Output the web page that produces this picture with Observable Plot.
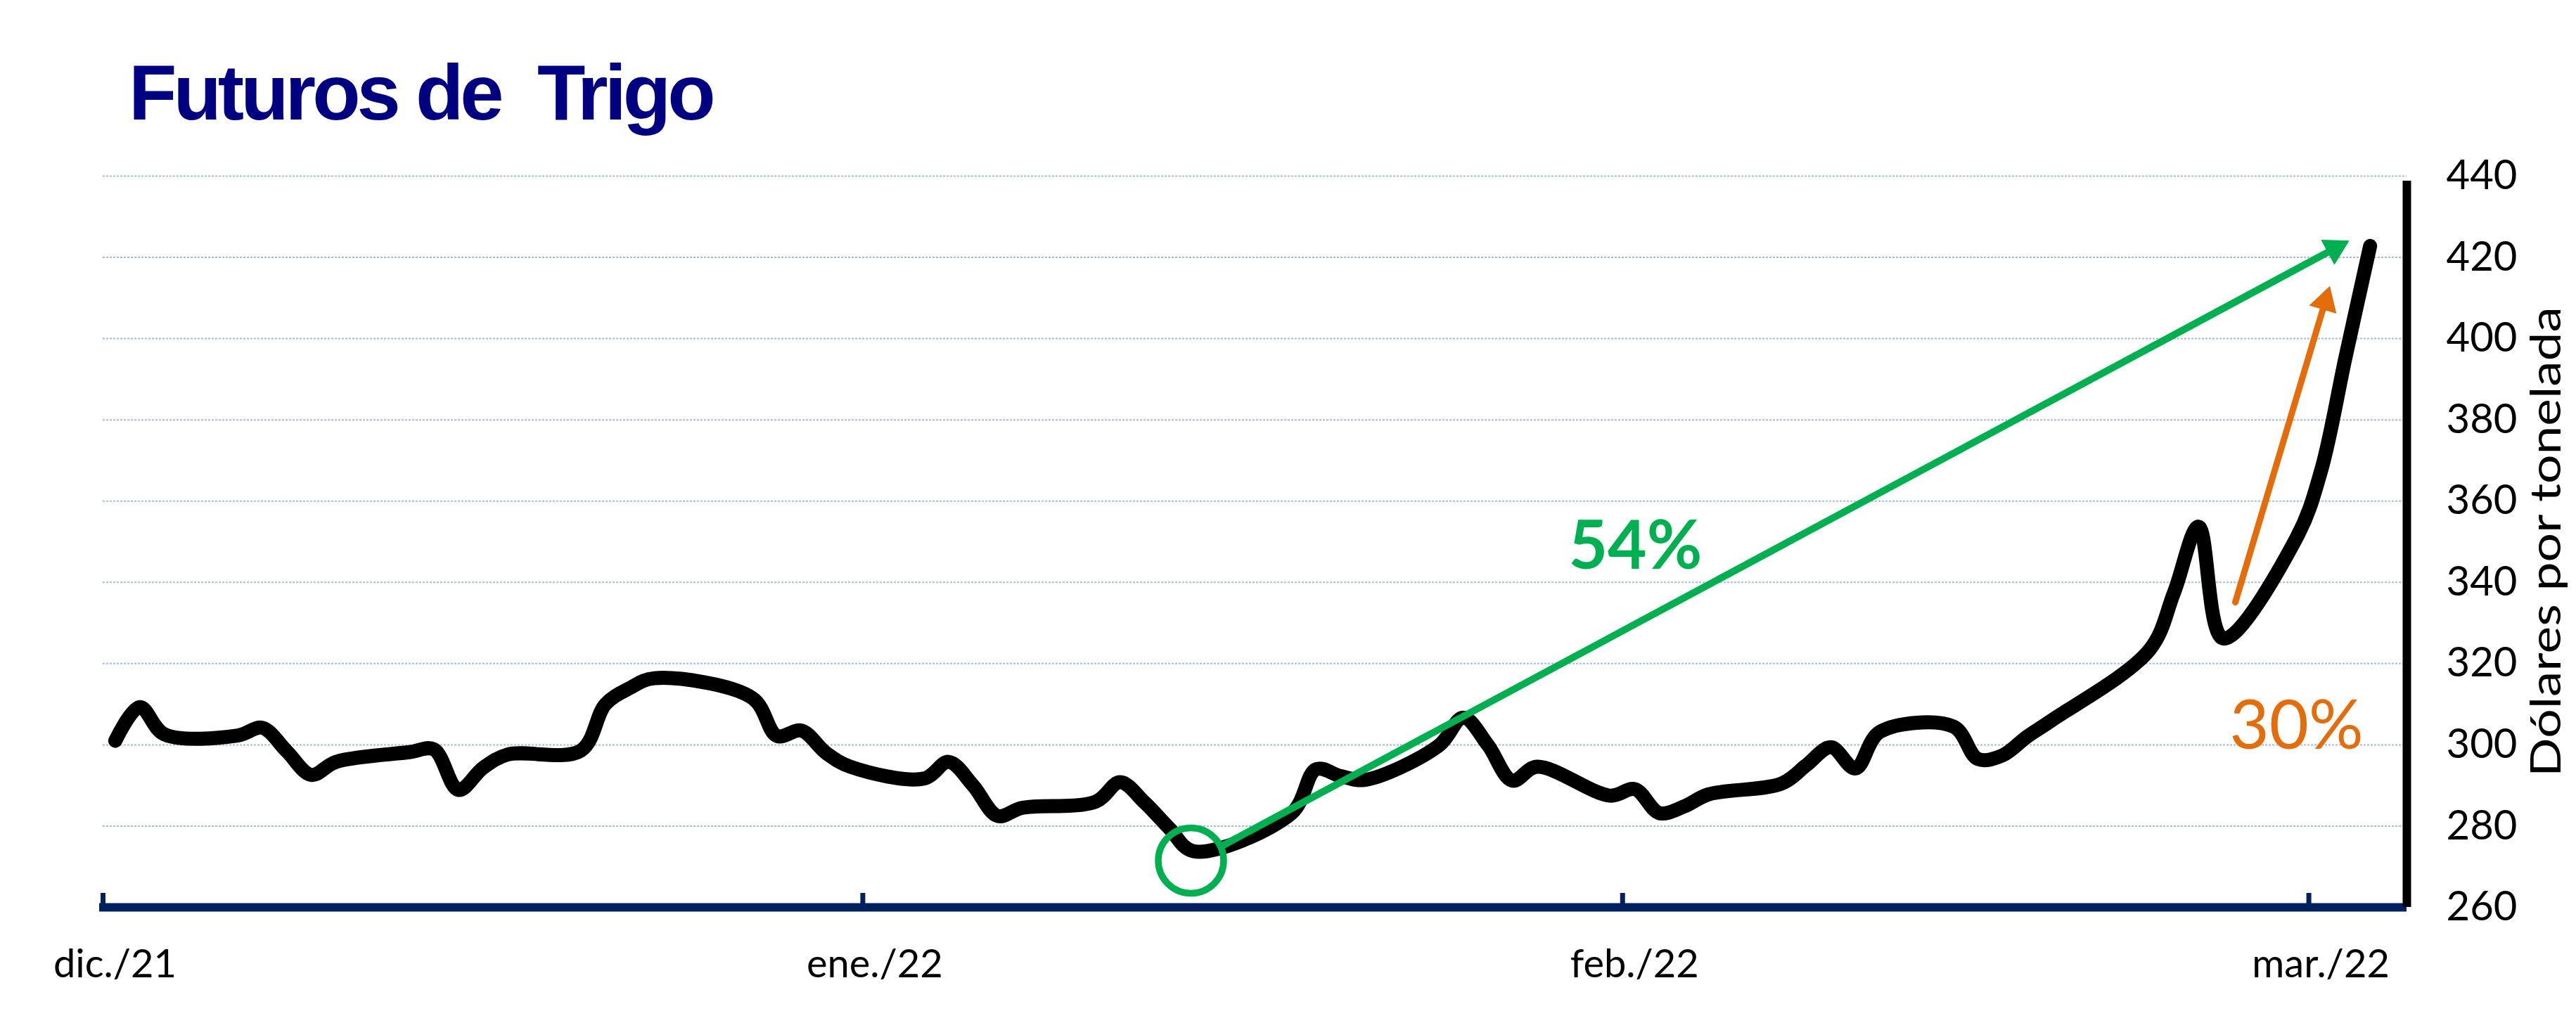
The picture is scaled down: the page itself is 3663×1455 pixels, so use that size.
<!DOCTYPE html>
<html>
<head>
<meta charset="utf-8">
<script src="https://cdn.jsdelivr.net/npm/d3@7"></script>
<script src="https://cdn.jsdelivr.net/npm/@observablehq/plot@0.6"></script>
<style>
  html, body { margin: 0; padding: 0; background: #ffffff; }
  #head { position: relative; width: 3663px; height: 200px; }
  #title { position: absolute; left: 183px; top: 76px; font-family: "Liberation Sans", Arial, sans-serif; font-weight: bold; font-size: 112px; line-height: 112px; letter-spacing: -5px; color: #000080; white-space: pre; }
</style>
</head>
<body>
<div id="head"><div id="title">Futuros de  Trigo</div></div>
<div id="chart"></div>
<script>
// ---- data ----
const tradeDates = [
  "2021-12-01","2021-12-02","2021-12-03","2021-12-06","2021-12-07","2021-12-08","2021-12-09","2021-12-10",
  "2021-12-13","2021-12-14","2021-12-15","2021-12-16","2021-12-17","2021-12-20","2021-12-21","2021-12-22",
  "2021-12-23","2021-12-27","2021-12-28","2021-12-29","2021-12-30","2021-12-31",
  "2022-01-03","2022-01-04","2022-01-05","2022-01-06","2022-01-07","2022-01-10","2022-01-11","2022-01-12",
  "2022-01-13","2022-01-14","2022-01-18","2022-01-19","2022-01-20","2022-01-21","2022-01-24","2022-01-25",
  "2022-01-26","2022-01-27","2022-01-28","2022-01-31",
  "2022-02-01","2022-02-02","2022-02-03","2022-02-04","2022-02-07","2022-02-08","2022-02-09","2022-02-10",
  "2022-02-11","2022-02-14","2022-02-15","2022-02-16","2022-02-17","2022-02-18","2022-02-22","2022-02-23",
  "2022-02-24","2022-02-25","2022-02-28",
  "2022-03-01","2022-03-02","2022-03-03"
];
const prices = [
  301.0, 309.3, 302.6, 302.3, 304.2, 298.4, 292.6, 295.8,
  298.2, 298.9, 288.9, 294.3, 297.6, 298.6, 310.0, 314.0,
  316.4, 311.5, 302.2, 303.5, 298.0, 294.6,
  291.7, 295.8, 290.0, 282.5, 284.5, 286.0, 290.8, 285.8,
  279.5, 273.8, 283.2, 294.0, 292.3, 291.4, 299.8, 306.7,
  300.0, 291.2, 294.6, 287.5,
  289.1, 283.2, 284.8, 287.8, 290.5, 295.0, 299.4, 294.2,
  303.2, 304.5, 296.5, 297.4, 302.0, 306.0, 323.4, 337.5,
  353.7, 326.2, 351.0,
  367.5, 395.5, 422.8
];
const monthTicks = ["2021-12-01", "2022-01-01", "2022-02-01", "2022-03-01"];
const monthLabels = ["dic./21", "ene./22", "feb./22", "mar./22"];
const yTicks = [260, 280, 300, 320, 340, 360, 380, 400, 420, 440];
const gridValues = [280, 300, 320, 340, 360, 380, 400, 420, 440];
const xDomain = ["2021-12-01", "2022-03-05"];
const yDomain = [260, 440];
const yTitle = "Dólares por tonelada";

// annotations (data coordinates)
const lowCircle = {date: "2022-01-14T09:20:00Z", value: 271.5};
const greenArrow = [{date: "2022-01-15T15:36:00Z", value: 275.1}, {date: "2022-03-02T01:30:00Z", value: 422.2}];
const orangeArrow = [{date: "2022-02-26T00:00:00Z", value: 335.1}, {date: "2022-03-01T16:00:00Z", value: 409.1}];
const labelGreen = {date: "2022-02-01T12:30:00Z", value: 343.3, text: "54%"};
const labelOrange = {date: "2022-02-28T12:00:00Z", value: 299.0, text: "30%"};

// ---- build ----
const GREEN = "#00B050", ORANGE = "#E46C0A", NAVY = "#002060";
const series = tradeDates.map((d, i) => ({date: new Date(d + "T12:00:00Z"), value: prices[i]}));
const ticks = monthTicks.map(d => new Date(d + "T00:00:00Z"));
const labelOf = new Map(ticks.map((t, i) => [t.getTime(), monthLabels[i]]));
const xStart = new Date(xDomain[0] + "T00:00:00Z");
const xEnd = new Date(xDomain[1] + "T00:00:00Z");
const asPt = p => ({...p, date: new Date(p.date)});
const gArrow = greenArrow.map(asPt);
const oArrow = orangeArrow.map(asPt);

const chart = Plot.plot({
  width: 3663,
  height: 1255,
  marginLeft: 146,
  marginRight: 241,
  marginTop: 50,
  marginBottom: 165,
  style: {fontFamily: "Lato, 'Open Sans', sans-serif", background: "#ffffff", color: "#000000", overflow: "visible"},
  x: {type: "utc", domain: [xStart, xEnd]},
  y: {domain: yDomain},
  marks: [
    Plot.ruleY(gridValues, {stroke: "#a6bde0", strokeWidth: 2, strokeDasharray: "3,2"}),
    Plot.ruleY([yDomain[0]], {stroke: NAVY, strokeWidth: 12, insetLeft: -5}),
    Plot.ruleX(ticks, {y1: yDomain[0], y2: yDomain[0], insetTop: -20, stroke: NAVY, strokeWidth: 7}),
    Plot.ruleX([xEnd], {y1: yDomain[0], y2: yDomain[1], stroke: "#000000", strokeWidth: 12, insetBottom: -7}),
    Plot.axisX({ticks: ticks, tickSize: 0, tickPadding: 60, tickFormat: d => labelOf.get(d.getTime()), fontSize: 56, dx: 17, label: null}),
    Plot.axisY({anchor: "right", ticks: yTicks, tickSize: 0, tickPadding: 56, fontSize: 58, label: null}),
    Plot.text([yTitle], {frameAnchor: "right", text: d => d, rotate: -90, dx: 199, fontSize: 60, textAnchor: "middle", lineAnchor: "middle", fill: "#000000"}),
    Plot.line(series, {x: "date", y: "value", stroke: "#000000", strokeWidth: 20, curve: "catmull-rom", strokeLinecap: "round", strokeLinejoin: "round"}),
    Plot.dot([asPt(lowCircle)], {x: "date", y: "value", r: 46.5, stroke: GREEN, strokeWidth: 9.5, fill: "none"}),
    Plot.line(gArrow, {x: "date", y: "value", stroke: GREEN, strokeWidth: 10}),
    Plot.dot([gArrow[1]], {x: "date", y: "value", symbol: "triangle", r: 15, fill: GREEN, stroke: "none", rotate: 61.75}),
    Plot.line(oArrow, {x: "date", y: "value", stroke: ORANGE, strokeWidth: 9}),
    Plot.dot([oArrow[1]], {x: "date", y: "value", symbol: "triangle", r: 15, fill: ORANGE, stroke: "none", rotate: 16.7}),
    Plot.text([asPt(labelGreen)], {x: "date", y: "value", text: "text", fill: GREEN, fontSize: 96, fontWeight: "bold", textAnchor: "middle", lineAnchor: "bottom"}),
    Plot.text([asPt(labelOrange)], {x: "date", y: "value", text: "text", fill: ORANGE, fontSize: 97, textAnchor: "middle", lineAnchor: "bottom"})
  ]
});
d3.select(chart).selectAll("text")
  .filter(function () { return this.textContent === yTitle; })
  .attr("transform", function () { return (this.getAttribute("transform") || "") + " scale(1.22,1)"; });
document.getElementById("chart").appendChild(chart);
</script>
</body>
</html>
